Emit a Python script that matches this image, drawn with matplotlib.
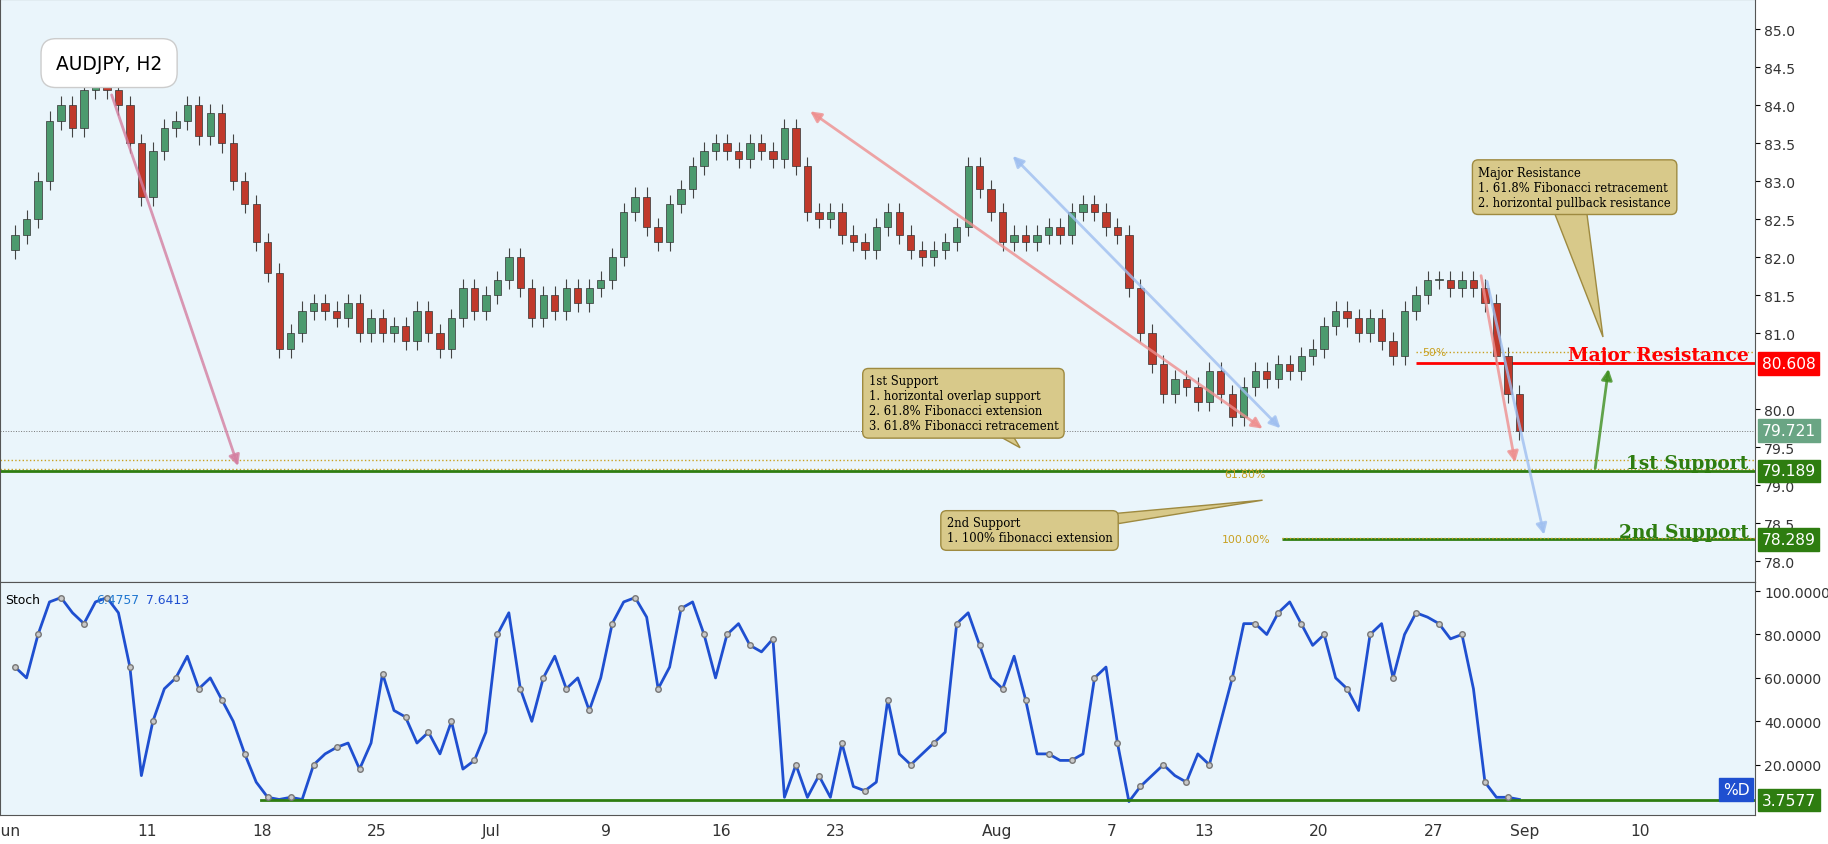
import numpy as np
import matplotlib.pyplot as plt
from matplotlib.patches import Polygon

# two H2-ish closes per trading day, Jun 1 .. Aug 31
closes = [82.3, 82.5, 83.0, 83.8, 84.0, 83.7, 84.2, 84.3, 84.2, 84.0, 83.5, 82.8,
          83.4, 83.7, 83.8, 84.0, 83.6, 83.9, 83.5, 83.0, 82.7, 82.2,
          81.8, 80.8, 81.0, 81.3, 81.4, 81.3, 81.2, 81.4, 81.0, 81.2,
          81.0, 81.1, 80.9, 81.3, 81.0, 80.8, 81.2, 81.6, 81.3, 81.5,
          81.7, 82.0, 81.6, 81.2, 81.5, 81.3, 81.6, 81.4, 81.6, 81.7,
          82.0, 82.6, 82.8, 82.4, 82.2, 82.7, 82.9, 83.2, 83.4, 83.5,
          83.4, 83.3, 83.5, 83.4, 83.3, 83.7, 83.2, 82.6, 82.5, 82.6,
          82.3, 82.2, 82.1, 82.4, 82.6, 82.3, 82.1, 82.0, 82.1, 82.2,
          82.4, 83.2, 82.9, 82.6, 82.2, 82.3, 82.2, 82.3, 82.4, 82.3,
          82.6, 82.7, 82.6, 82.4, 82.3, 81.6, 81.0, 80.6, 80.2, 80.4,
          80.3, 80.1, 80.5, 80.2, 79.9, 80.3, 80.5, 80.4, 80.6, 80.5,
          80.7, 80.8, 81.1, 81.3, 81.2, 81.0, 81.2, 80.9, 80.7, 81.3,
          81.5, 81.7, 81.7, 81.6, 81.7, 81.6, 81.4, 80.7, 80.2, 79.72]
stoch = [65, 60, 80, 95, 97, 90, 85, 95, 97, 90, 65, 15,
         40, 55, 60, 70, 55, 60, 50, 40, 25, 12,
         5, 4, 5, 4, 20, 25, 28, 30, 18, 30,
         62, 45, 42, 30, 35, 25, 40, 18, 22, 35,
         80, 90, 55, 40, 60, 70, 55, 60, 45, 60,
         85, 95, 97, 88, 55, 65, 92, 95, 80, 60,
         80, 85, 75, 72, 78, 5, 20, 5, 15, 5,
         30, 10, 8, 12, 50, 25, 20, 25, 30, 35,
         85, 90, 75, 60, 55, 70, 50, 25, 25, 22,
         22, 25, 60, 65, 30, 3, 10, 15, 20, 15,
         12, 25, 20, 40, 60, 85, 85, 80, 90, 95,
         85, 75, 80, 60, 55, 45, 80, 85, 60, 80,
         90, 88, 85, 78, 80, 55, 12, 5, 5, 4]
tick_days = [0, 6, 11, 16, 21, 26, 31, 36, 43, 48, 52, 57, 62, 66, 71]
tick_labels = ['Jun', '11', '18', '25', 'Jul', '9', '16', '23', 'Aug', '7', '13', '20', '27', 'Sep', '10']
price_ticks = [78.0, 78.5, 79.0, 79.5, 80.0, 81.0, 81.5, 82.0, 82.5, 83.0, 83.5, 84.0, 84.5, 85.0]
levels = {'major': 80.608, 'last': 79.721, 's1': 79.189, 's2': 78.289}
stoch_last = 3.7577

# layout measured on a 1568x725 view of the reference
W, H = 1568, 725
PX = 19.7
def dx(px): return (px - 8) / PX
def py_(py): return 85.4 - py / 65.2
def sy(py): return 100 - (py - 508) / 1.8625
F = 1.12  # font scale

fig = plt.figure(figsize=(18.28, 8.45), dpi=100)
ax = fig.add_axes([0, (H - 500) / H, 1505 / W, 500 / H])
ax2 = fig.add_axes([0, (H - 700) / H, 1505 / W, 200 / H], sharex=ax)

xs = np.arange(len(closes)) * 0.5 + 0.25
opens = [closes[0] - 0.2] + closes[:-1]
for x, o, c in zip(xs, opens, closes):
    col = '#4c9a6e' if c >= o else '#c0392b'
    ax.vlines(x, min(o, c) - 0.12, max(o, c) + 0.12, color='#444444', lw=0.8, zorder=2)
    ax.bar(x, abs(c - o) or 0.02, bottom=min(o, c), width=0.32, color=col,
           edgecolor='#333333', lw=0.5, zorder=3)

ax.set_xlim(dx(0), dx(1505))
ax.set_ylim(py_(500), py_(0))
ax.yaxis.tick_right()
ax.set_yticks(price_ticks)
ax.set_yticklabels([f'{v:.1f}' for v in price_ticks], fontsize=9 * F, color='#333')
ax.tick_params(axis='x', bottom=False, labelbottom=False)
for a in (ax, ax2):
    a.set_facecolor('#eaf5fb')
    for s in a.spines.values():
        s.set_color('#555')

x1 = dx(1505)
ax.axhline(levels['last'], color='#777', lw=0.7, ls=':')
ax.axhline(79.33, color='#c8a020', lw=1, ls=':')
ax.axhline(79.22, color='#c8a020', lw=1, ls=':')
ax.axhline(levels['s1'], color='#2e7d10', lw=2)
ax.hlines(levels['major'], dx(1215), x1, color='red', lw=2)
ax.hlines(80.75, dx(1215), x1, color='#c8a020', lw=1, ls=':')
ax.hlines(levels['s2'], dx(1100), x1, color='#2e7d10', lw=2)
ax.hlines(78.31, dx(1100), x1, color='#c8a020', lw=1, ls=':')
ax.text(dx(1220), 80.75, '50%', fontsize=7 * F, color='#c8a020', va='center')
ax.text(dx(1050), 79.15, '61.80%', fontsize=7 * F, color='#c8a020', va='center')
ax.text(dx(1048), 78.29, '100.00%', fontsize=7 * F, color='#c8a020', va='center')

lab = dict(fontsize=12 * F, fontweight='bold', family='DejaVu Serif', ha='right', va='center')
ax.text(dx(1500), 80.72, 'Major Resistance', color='red', **lab)
ax.text(dx(1500), 79.29, '1st Support', color='#2e7d10', **lab)
ax.text(dx(1500), 78.39, '2nd Support', color='#2e7d10', **lab)

for v, col in [(levels['major'], 'red'), (levels['last'], '#6aa584'),
               (levels['s1'], '#2e7d10'), (levels['s2'], '#2e7d10')]:
    ax.text(1.004, v, f'{v:.3f}', transform=ax.get_yaxis_transform(), color='white',
            fontsize=10 * F, va='center', bbox=dict(boxstyle='square,pad=0.25', fc=col, ec=col), clip_on=False)

def arr(p0, p1, col, both=False):
    ax.annotate('', xy=(dx(p1[0]), py_(p1[1])), xytext=(dx(p0[0]), py_(p0[1])),
                arrowprops=dict(arrowstyle='<|-|>' if both else '-|>', color=col, lw=2,
                                mutation_scale=16, alpha=0.8))
arr((95, 80), (205, 403), '#d47ea0')
arr((1085, 370), (693, 95), '#ef8f8f', True)
arr((1100, 370), (867, 133), '#9fbff0', True)
arr((1270, 235), (1300, 400), '#ef8f8f')
arr((1275, 240), (1325, 462), '#9fbff0')
arr((1368, 405), (1380, 315), '#3f8f1f')

box = dict(boxstyle='round,pad=0.5', fc='#d8c98a', ec='#9e8a40')
def callout(px, py, txt, tail):
    ax.text(dx(px), py_(py), txt, fontsize=7.5 * F, family='DejaVu Serif', va='top', bbox=box, zorder=6)
    ax.add_patch(Polygon([(dx(p[0]), py_(p[1])) for p in tail], closed=True,
                         fc='#d8c98a', ec='#9e8a40', zorder=5))
callout(1268, 143, 'Major Resistance\n1. 61.8% Fibonacci retracement\n2. horizontal pullback resistance',
        [(1330, 175), (1360, 175), (1375, 290)])
callout(745, 322, '1st Support\n1. horizontal overlap support\n2. 61.8% Fibonacci extension\n3. 61.8% Fibonacci retracement',
        [(830, 360), (860, 360), (875, 385)])
callout(812, 444, '2nd Support\n1. 100% fibonacci extension',
        [(950, 442), (960, 450), (1083, 430)])
ax.text(dx(48), py_(55), 'AUDJPY, H2', fontsize=12 * F, va='center',
        bbox=dict(boxstyle='round,pad=0.8', fc='white', ec='#ccc'), zorder=7)

# stochastic
ax2.plot(xs, stoch, color='#1f4fd0', lw=2)
ax2.scatter(xs[::2], stoch[::2], s=16, color='#c8c8c8', edgecolor='#777', zorder=3)
ax2.axhline(stoch_last, xmin=dx(232) / (dx(1505) - dx(0)), color='#2e7d10', lw=2)
ax2.set_ylim(sy(700), sy(500))
ax2.yaxis.tick_right()
ax2.set_yticks([20, 40, 60, 80, 100])
ax2.set_yticklabels(['20.0000', '40.0000', '60.0000', '80.0000', '100.0000'], fontsize=9 * F, color='#333')
ax2.set_xticks(tick_days)
ax2.set_xticklabels(tick_labels, fontsize=10 * F, color='#333')
ax2.tick_params(axis='x', length=0, pad=6)
ax2.text(0.003, 0.95, 'Stoch', transform=ax2.transAxes, fontsize=8 * F, va='top')
ax2.text(0.055, 0.95, '6.4757', transform=ax2.transAxes, fontsize=8 * F, va='top', color='#1f77d0')
ax2.text(0.083, 0.95, '7.6413', transform=ax2.transAxes, fontsize=8 * F, va='top', color='#1f4fd0')
ax2.text(0.997, 8.5, '%D', transform=ax2.get_yaxis_transform(), ha='right', va='center', color='white',
         fontsize=10 * F, bbox=dict(boxstyle='square,pad=0.25', fc='#1f4fd0', ec='#1f4fd0'))
ax2.text(1.004, stoch_last, f'{stoch_last:.4f}', transform=ax2.get_yaxis_transform(), color='white',
         fontsize=10 * F, va='center', bbox=dict(boxstyle='square,pad=0.25', fc='#2e7d10', ec='#2e7d10'))

fig.savefig('out.png', dpi=100, facecolor='white')
